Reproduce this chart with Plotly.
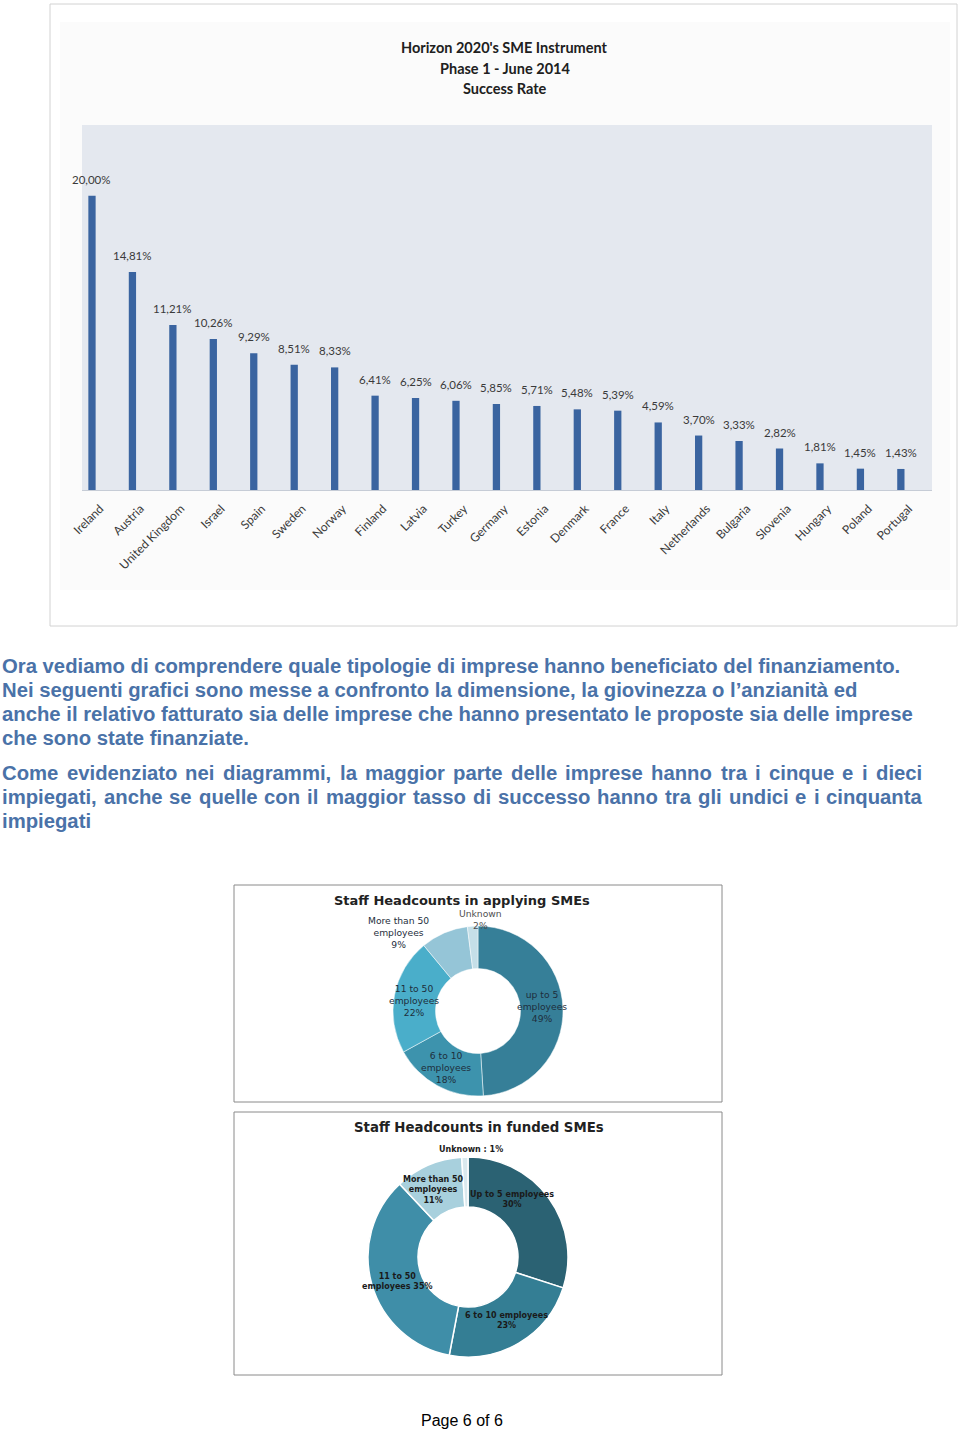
import plotly.graph_objects as go

W, H = 960, 1429

# ---------------- data ----------------
countries = ["Ireland", "Austria", "United Kingdom", "Israel", "Spain", "Sweden", "Norway",
             "Finland", "Latvia", "Turkey", "Germany", "Estonia", "Denmark", "France", "Italy",
             "Netherlands", "Bulgaria", "Slovenia", "Hungary", "Poland", "Portugal"]
success_rate = [20.00, 14.81, 11.21, 10.26, 9.29, 8.51, 8.33, 6.41, 6.25, 6.06, 5.85, 5.71,
                5.48, 5.39, 4.59, 3.70, 3.33, 2.82, 1.81, 1.45, 1.43]
bar_title = ["Horizon 2020's SME Instrument", "Phase 1 - June 2014", "Success Rate"]

applying_labels = ["up to 5 employees", "6 to 10 employees", "11 to 50 employees",
                   "More than 50 employees", "Unknown"]
applying_values = [49, 18, 22, 9, 2]
applying_text = ["up to 5<br>employees<br>49%", "6 to 10<br>employees<br>18%",
                 "11 to 50<br>employees<br>22%", "More than 50<br>employees<br>9%",
                 "Unknown<br>2%"]

funded_labels = ["Up to 5 employees", "6 to 10 employees", "11 to 50 employees",
                 "More than 50 employees", "Unknown"]
funded_values = [30, 23, 35, 11, 1]
funded_text = ["Up to 5 employees<br>30%", "6 to 10 employees<br>23%",
               "11 to 50<br>employees 35%", "More than 50<br>employees<br>11%",
               "Unknown : 1%"]

para1 = ["Ora vediamo di comprendere quale tipologie di imprese hanno beneficiato del finanziamento.",
         "Nei seguenti grafici sono messe a confronto la dimensione, la giovinezza o l\u2019anzianità ed",
         "anche il relativo fatturato sia delle imprese che hanno presentato le proposte sia delle imprese",
         "che sono state finanziate."]
para2 = ["Come evidenziato nei diagrammi, la maggior parte delle imprese hanno tra i cinque e i dieci",
         "impiegati, anche se quelle con il maggior tasso di successo hanno tra gli undici e i cinquanta",
         "impiegati"]
footer = "Page 6 of 6"


def X(px):
    return px / W


def Y(py):
    return 1 - py / H


# approximate advance widths of a Helvetica/Arial bold face (per 1000 em), used to justify text
BOLD_W = {" ": 278, "a": 556, "b": 611, "c": 556, "d": 611, "e": 556, "f": 333, "g": 611,
          "h": 611, "i": 278, "j": 278, "k": 556, "l": 278, "m": 889, "n": 611, "o": 611,
          "p": 611, "q": 611, "r": 389, "s": 556, "t": 333, "u": 611, "v": 556, "w": 778,
          "x": 556, "y": 556, "z": 500, ",": 278, ".": 278, "C": 722, "N": 722, "O": 778}


def text_w(s, size):
    return sum(BOLD_W.get(ch, 556) for ch in s) * size / 1000.0


TXT_SIZE = 20.3
TXT_FONT = dict(family="Liberation Sans", size=TXT_SIZE, color="#4a72a8")

fig = go.Figure()

# ---------------- bar chart ----------------
fig.add_trace(go.Bar(
    x=countries, y=success_rate, width=0.18,
    marker=dict(color="#3a64a0", line=dict(width=0)),
    xaxis="x", yaxis="y", showlegend=False, hoverinfo="x+y"))

annotations = []
for c, v in zip(countries, success_rate):
    annotations.append(dict(
        x=c, y=v, xref="x", yref="y", text=f"{v:.2f}".replace(".", ",") + "%",
        showarrow=False, yanchor="bottom", yshift=8,
        font=dict(family="Lato", size=11.5, color="#3a3a3a")))

for i, t in enumerate(bar_title):
    annotations.append(dict(
        x=X(505), y=Y(47 + 21 * i), xref="paper", yref="paper", text=f"<b>{t}</b>",
        showarrow=False, xanchor="center", yanchor="middle",
        font=dict(family="Lato", size=14.5, color="#202020")))

# ---------------- donuts ----------------
fig.add_trace(go.Pie(
    values=applying_values, labels=applying_labels, hole=0.5, sort=False,
    direction="clockwise", rotation=0, textinfo="none", showlegend=False,
    marker=dict(colors=["#367f98", "#3d93ad", "#4aaeca", "#95c5d7", "#c5dfe8"],
                line=dict(color="#ffffff", width=0.5)),
    domain=dict(x=[X(393), X(563)], y=[Y(1096), Y(926)])))

fig.add_trace(go.Pie(
    values=funded_values, labels=funded_labels, hole=0.5, sort=False,
    direction="clockwise", rotation=0, textinfo="none", showlegend=False,
    marker=dict(colors=["#2b6273", "#347e94", "#3f8ea8", "#a8d0dd", "#dae9ee"],
                line=dict(color="#ffffff", width=1.5)),
    domain=dict(x=[X(368), X(568)], y=[Y(1357), Y(1157)])))

applying_pos = [(542, 1006), (446, 1067), (414, 1000), (398, 932), (480, 919)]
for t, (px, py) in zip(applying_text, applying_pos):
    annotations.append(dict(
        x=X(px), y=Y(py), xref="paper", yref="paper", text=t, showarrow=False,
        xanchor="center", yanchor="middle",
        font=dict(family="DejaVu Sans", size=9.2,
                  color="#1e2e3c" if "Unknown" not in t else "#505050")))

funded_pos = [(512, 1199), (507, 1320), (397, 1281), (433, 1190), (471, 1149)]
for t, (px, py) in zip(funded_text, funded_pos):
    annotations.append(dict(
        x=X(px), y=Y(py), xref="paper", yref="paper", text=f"<b>{t}</b>", showarrow=False,
        xanchor="center", yanchor="middle",
        font=dict(family="DejaVu Sans", size=8, color="#1a1a1a")))

annotations.append(dict(
    x=X(462), y=Y(900), xref="paper", yref="paper", text="<b>Staff Headcounts in applying SMEs</b>",
    showarrow=False, xanchor="center", yanchor="middle",
    font=dict(family="DejaVu Sans", size=13, color="#222222")))
annotations.append(dict(
    x=X(479), y=Y(1127), xref="paper", yref="paper", text="<b>Staff Headcounts in funded SMEs</b>",
    showarrow=False, xanchor="center", yanchor="middle",
    font=dict(family="DejaVu Sans", size=13.3, color="#222222")))

# ---------------- paragraphs ----------------
for i, line in enumerate(para1):
    annotations.append(dict(
        x=X(0), y=Y(666 + 24 * i), xref="paper", yref="paper", text=f"<b>{line}</b>",
        showarrow=False, xanchor="left", yanchor="middle", font=TXT_FONT))

JUST_RIGHT = 922
for i, line in enumerate(para2):
    ypos = Y(773 + 24 * i)
    if i < len(para2) - 1:
        words = line.split(" ")
        widths = [text_w(wd, TXT_SIZE) for wd in words]
        gap = (JUST_RIGHT - 2 - sum(widths)) / (len(words) - 1)
        xpos = 0
        for wd, wdw in zip(words, widths):
            annotations.append(dict(
                x=X(xpos), y=ypos, xref="paper", yref="paper", text=f"<b>{wd}</b>",
                showarrow=False, xanchor="left", yanchor="middle", font=TXT_FONT))
            xpos += wdw + gap
    else:
        annotations.append(dict(
            x=X(0), y=ypos, xref="paper", yref="paper", text=f"<b>{line}</b>",
            showarrow=False, xanchor="left", yanchor="middle", font=TXT_FONT))

annotations.append(dict(
    x=X(462), y=Y(1420), xref="paper", yref="paper", text=footer, showarrow=False,
    xanchor="center", yanchor="middle",
    font=dict(family="Liberation Sans", size=16, color="#000000")))

# ---------------- frames ----------------
shapes = [
    dict(type="rect", xref="paper", yref="paper", x0=X(50), x1=X(957), y0=Y(626), y1=Y(4),
         line=dict(color="#d2d2d2", width=1), fillcolor="#ffffff", layer="below"),
    dict(type="rect", xref="paper", yref="paper", x0=X(60), x1=X(950), y0=Y(590), y1=Y(22),
         line=dict(width=0), fillcolor="#fbfbfb", layer="below"),
    dict(type="rect", xref="paper", yref="paper", x0=X(82), x1=X(932), y0=Y(490), y1=Y(125),
         line=dict(width=0), fillcolor="#e4e8ef", layer="below"),
    dict(type="rect", xref="paper", yref="paper", x0=X(234), x1=X(722), y0=Y(1102), y1=Y(885),
         line=dict(color="#8a8a8a", width=1), layer="below"),
    dict(type="rect", xref="paper", yref="paper", x0=X(234), x1=X(722), y0=Y(1375), y1=Y(1112),
         line=dict(color="#8a8a8a", width=1), layer="below"),
]

fig.update_layout(
    width=W, height=H, margin=dict(l=0, r=0, t=0, b=0, autoexpand=False),
    paper_bgcolor="#ffffff", plot_bgcolor="rgba(0,0,0,0)",
    xaxis=dict(domain=[X(82), X(932)], range=[-0.247, 20.77], type="category",
               tickangle=-45, tickfont=dict(family="Lato", size=12, color="#3a3a3a"),
               ticklabelstandoff=6, ticklabelshift=8,
               showgrid=False, zeroline=False, showline=True, linecolor="#c6ccd6",
               ticks="", anchor="y", fixedrange=True, automargin=False),
    yaxis=dict(domain=[Y(490), Y(125)], range=[0, 24.8], visible=False, showgrid=False,
               anchor="x", fixedrange=True, automargin=False),
    annotations=annotations, shapes=shapes,
)

fig.write_html("out.html")
